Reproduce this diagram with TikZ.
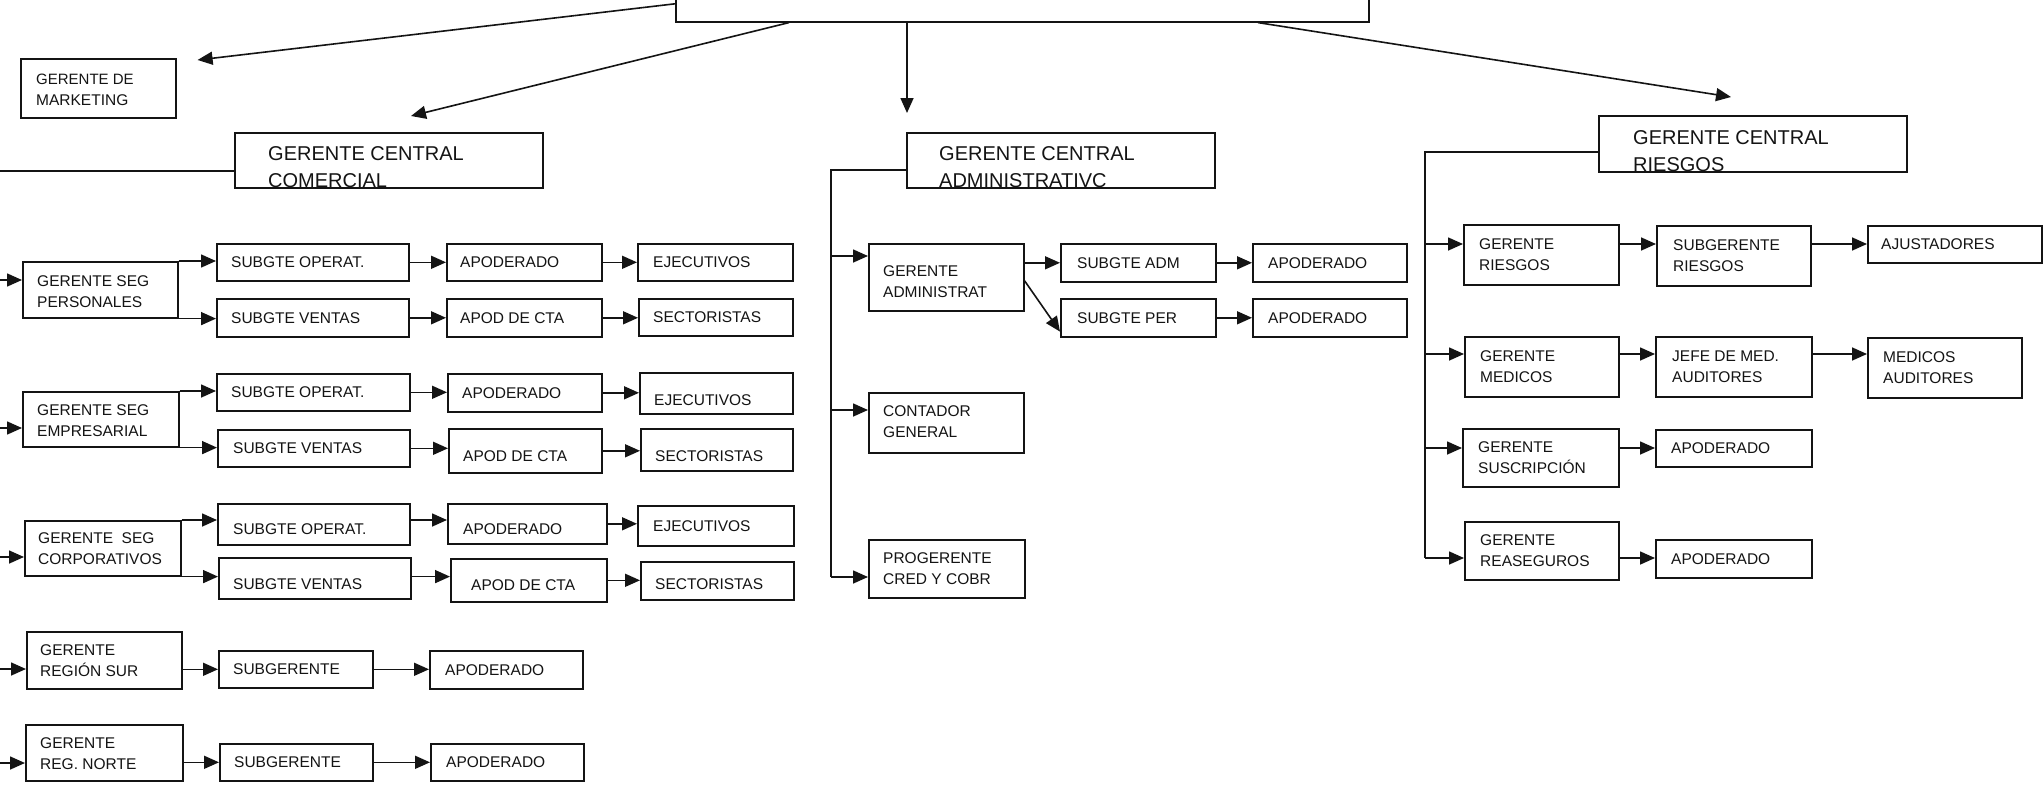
\documentclass[tikz,border=0pt]{standalone}
\usepackage{fontspec}
\setmainfont{Liberation Sans}
\usetikzlibrary{arrows.meta}
\definecolor{ink}{HTML}{141414}

% name, x, y (top left), width, height, text inset, text shift, text
\newcommand\obox[8]{%
  \node[box, minimum width=#4pt, minimum height=#5pt, anchor=north west] (#1) at (#2,#3) {};
  \node[lbl, anchor=west] (#1t) at ([shift={(#6pt,#7pt)}]#1.west) {#8};}
% name, x, y, width, height, text inset, text
\newcommand\tbox[7]{%
  \node[box, minimum width=#4pt, minimum height=#5pt, anchor=north west] (#1) at (#2,#3) {};
  \node[ttl, anchor=west] (#1t) at ([shift={(#6pt,-7pt)}]#1.west) {#7};}

\begin{document}
\begin{tikzpicture}[x=1pt,y=-1pt,
  box/.style={draw=ink, line width=1.6pt, inner sep=0pt},
  lbl/.style={inner sep=0pt, align=left, text=ink, font=\fontsize{15.5}{21}\selectfont},
  ttl/.style={inner sep=0pt, align=left, text=ink, font=\fontsize{20}{27}\selectfont},
  link/.style={draw=ink, line width=1.6pt},
  arr/.style={link, -{Triangle[length=15pt,width=13pt]}},
]
\fill[white] (0,0) rectangle (2044,787);
\useasboundingbox (0,0) rectangle (2044,787);
\clip (0,0) rectangle (2044,787);

% top of the chart
\node[box, minimum width=693pt, minimum height=36pt, anchor=north west] (gg) at (675,-15) {};

% central managers
\obox{mkt}{20}{58}{155}{59}{16}{-2}{\fontsize{15}{20}\selectfont GERENTE DE\\MARKETING}
\tbox{gcc}{234}{132}{308}{55}{34}{GERENTE CENTRAL\\COMERCIAL}
\tbox{gca}{906}{132}{308}{55}{33}{GERENTE CENTRAL\\ADMINISTRATIVC}
\tbox{gcr}{1598}{115}{308}{56}{35}{GERENTE CENTRAL\\RIESGOS}

\draw[arr] (gg.west) -- ([shift={(21pt,-2pt)}]mkt.north east);
\draw[arr] ([xshift=114pt]gg.south west) -- ([shift={(177pt,16pt)}]gcc.north west);
\draw[arr] ([xshift=232pt]gg.south west) -- ([shift={(1pt,19pt)}]gca.north west);
\draw[arr] ([xshift=583pt]gg.south west) -- ([shift={(133pt,18pt)}]gcr.north west);

% ---------- commercial branch ----------
\obox{gsp}{22}{261}{155}{56}{15}{-1.5}{GERENTE SEG\\PERSONALES}
\obox{so1}{216}{243}{192}{37}{15}{0}{SUBGTE OPERAT.}
\obox{sv1}{216}{298}{192}{38}{15}{0}{SUBGTE VENTAS}
\obox{ap1}{446}{243}{155}{37}{14}{0}{APODERADO}
\obox{ej1}{637}{243}{155}{37}{16}{0}{EJECUTIVOS}
\obox{ac1}{446}{298}{155}{38}{14}{0}{APOD DE CTA}
\obox{se1}{638}{298}{154}{37}{15}{0}{SECTORISTAS}

\obox{gse}{22}{391}{156}{55}{15}{-1}{GERENTE SEG\\EMPRESARIAL}
\obox{so2}{216}{373}{193}{37}{15}{0}{SUBGTE OPERAT.}
\obox{sv2}{217}{429}{192}{37}{16}{0}{SUBGTE VENTAS}
\obox{ap2}{447}{373}{154}{38}{15}{0}{APODERADO}
\obox{ej2}{639}{372}{153}{41}{15}{-6.5}{EJECUTIVOS}
\obox{ac2}{448}{428}{153}{44}{15}{-5}{APOD DE CTA}
\obox{se2}{640}{428}{152}{42}{15}{-6}{SECTORISTAS}

\obox{gsc}{24}{520}{156}{55}{14}{0}{GERENTE\ \ SEG\\CORPORATIVOS}
\obox{so3}{217}{503}{192}{41}{16}{-4.5}{SUBGTE OPERAT.}
\obox{sv3}{218}{557}{192}{41}{15}{-5.5}{SUBGTE VENTAS}
\obox{ap3}{447}{503}{159}{40}{16}{-5}{APODERADO}
\obox{ej3}{637}{505}{156}{40}{16}{0}{EJECUTIVOS}
\obox{ac3}{450}{558}{156}{43}{21}{-4.5}{APOD DE CTA}
\obox{se3}{640}{561}{153}{38}{15}{-3}{SECTORISTAS}

\obox{gsur}{26}{631}{155}{57}{14}{0}{GERENTE\\REGIÓN SUR}
\obox{sub4}{218}{650}{154}{37}{15}{0}{SUBGERENTE}
\obox{apo4}{429}{650}{153}{38}{16}{0}{APODERADO}

\obox{gnor}{25}{724}{157}{56}{15}{-1}{GERENTE\\REG. NORTE}
\obox{sub5}{219}{743}{153}{37}{15}{0}{SUBGERENTE}
\obox{apo5}{430}{743}{153}{37}{16}{0}{APODERADO}

\coordinate (cl) at (0,171);
\draw[link] (gcc.west |- cl) -- (cl);
\coordinate (in1) at (0,280);
\coordinate (in2) at (0,428);
\coordinate (in3) at (0,557);
\coordinate (in4) at (0,669);
\coordinate (in5) at (0,763);
\draw[arr] (in1) -- (in1 -| gsp.west);
\draw[arr] (in2) -- (in2 -| gse.west);
\draw[arr] (in3) -- (in3 -| gsc.west);
\draw[arr] (in4) -- (in4 -| gsur.west);
\draw[arr] (in5) -- (in5 -| gnor.west);

\draw[arr] (gsp.north east) -- (gsp.north east -| so1.west);
\draw[arr] (gsp.south east) -- (gsp.south east -| sv1.west);
\draw[arr] (so1.east) -- (so1.east -| ap1.west);
\draw[arr] (ap1.east) -- (ap1.east -| ej1.west);
\draw[arr] (sv1.east) -- (sv1.east -| ac1.west);
\draw[arr] (ac1.east) -- (ac1.east -| se1.west);

\draw[arr] (gse.north east) -- (gse.north east -| so2.west);
\draw[arr] (gse.south east) -- (gse.south east -| sv2.west);
\draw[arr] (so2.east) -- (so2.east -| ap2.west);
\draw[arr] (ap2.east) -- (ap2.east -| ej2.west);
\draw[arr] (sv2.east) -- (sv2.east -| ac2.west);
\draw[arr] (ac2.east) -- (ac2.east -| se2.west);

\draw[arr] (gsc.north east) -- (gsc.north east -| so3.west);
\draw[arr] (gsc.south east) -- (gsc.south east -| sv3.west);
\draw[arr] (so3.east |- gsc.north) -- (ap3.west |- gsc.north);
\draw[arr] (ap3.east) -- (ap3.east -| ej3.west);
\draw[arr] (sv3.east |- gsc.south) -- (ac3.west |- gsc.south);
\draw[arr] (ac3.east) -- (ac3.east -| se3.west);

\draw[arr] (gsur.east |- sub4.west) -- (sub4.west);
\draw[arr] (sub4.east) -- (sub4.east -| apo4.west);
\draw[arr] (gnor.east |- sub5.west) -- (sub5.west);
\draw[arr] (sub5.east) -- (sub5.east -| apo5.west);

% ---------- administrative branch ----------
\obox{gadm}{868}{243}{155}{67}{15}{-4.5}{GERENTE\\ADMINISTRAT}
\obox{sadm}{1060}{243}{155}{38}{17}{0}{SUBGTE ADM}
\obox{apa1}{1252}{243}{154}{38}{16}{0}{APODERADO}
\obox{sper}{1060}{298}{155}{38}{17}{0}{SUBGTE PER}
\obox{apa2}{1252}{298}{154}{38}{16}{0}{APODERADO}
\obox{cont}{868}{392}{155}{60}{15}{1}{CONTADOR\\GENERAL}
\obox{prog}{868}{539}{156}{58}{15}{0}{PROGERENTE\\CRED Y COBR}

\coordinate (at) at (831,170);
\coordinate (a1) at (831,256);
\coordinate (a2) at (831,410);
\coordinate (a3) at (831,577);
\draw[link] (gca.west |- at) -- (at) -- (a3);
\draw[arr] (a1) -- (a1 -| gadm.west);
\draw[arr] (a2) -- (a2 -| cont.west);
\draw[arr] (a3) -- (a3 -| prog.west);
\draw[arr] (gadm.east |- sadm) -- (sadm.west);
\draw[arr] ([yshift=-3.5pt]gadm.east) -- ([yshift=6pt]sper.south west);
\draw[arr] (sadm.east) -- (sadm.east -| apa1.west);
\draw[arr] (sper.east) -- (sper.east -| apa2.west);

% ---------- risk branch ----------
\obox{griesg}{1463}{224}{155}{60}{16}{0}{GERENTE\\RIESGOS}
\obox{sgr}{1656}{225}{154}{60}{17}{0}{SUBGERENTE\\RIESGOS}
\obox{ajus}{1867}{225}{174}{37}{14}{0}{AJUSTADORES}
\obox{gmed}{1464}{336}{154}{60}{16}{0}{GERENTE\\MEDICOS}
\obox{jefe}{1655}{336}{156}{60}{17}{0}{JEFE DE MED.\\AUDITORES}
\obox{medaud}{1867}{337}{154}{60}{16}{0}{MEDICOS\\AUDITORES}
\obox{gsus}{1462}{428}{156}{58}{16}{0}{GERENTE\\SUSCRIPCIÓN}
\obox{apr1}{1655}{429}{156}{37}{16}{0}{APODERADO}
\obox{greas}{1464}{521}{154}{58}{16}{0}{GERENTE\\REASEGUROS}
\obox{apr2}{1655}{539}{156}{38}{16}{0}{APODERADO}

\coordinate (rt) at (1425,152);
\coordinate (r1) at (1425,244);
\coordinate (r2) at (1425,354);
\coordinate (r3) at (1425,448);
\coordinate (r4) at (1425,558);
\draw[link] (gcr.west |- rt) -- (rt) -- (r4);
\draw[arr] (r1) -- (r1 -| griesg.west);
\draw[arr] (r1 -| griesg.east) -- (r1 -| sgr.west);
\draw[arr] (r1 -| sgr.east) -- (r1 -| ajus.west);
\draw[arr] (r2) -- (r2 -| gmed.west);
\draw[arr] (r2 -| gmed.east) -- (r2 -| jefe.west);
\draw[arr] (r2 -| jefe.east) -- (r2 -| medaud.west);
\draw[arr] (r3) -- (r3 -| gsus.west);
\draw[arr] (r3 -| gsus.east) -- (r3 -| apr1.west);
\draw[arr] (r4) -- (r4 -| greas.west);
\draw[arr] (r4 -| greas.east) -- (r4 -| apr2.west);
\end{tikzpicture}
\end{document}
